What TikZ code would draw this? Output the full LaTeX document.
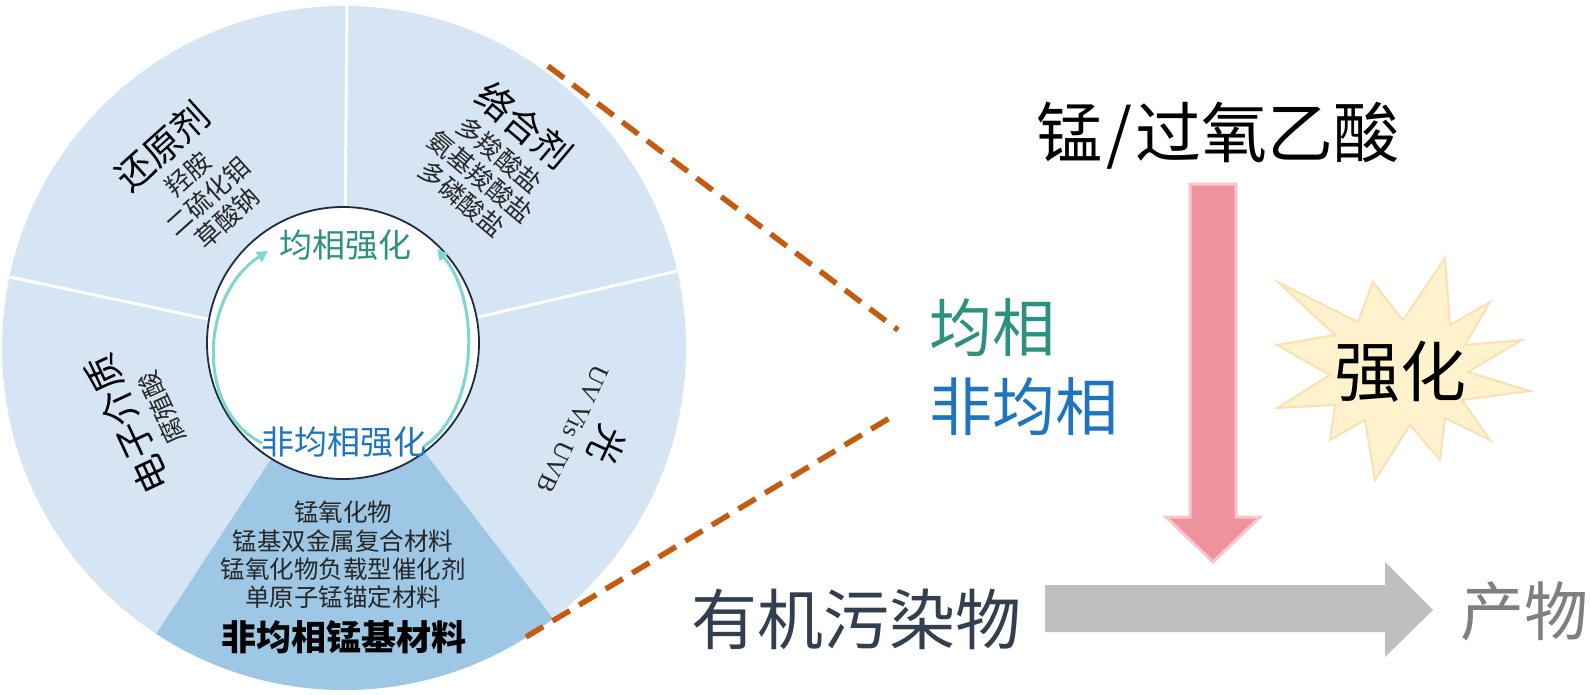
\documentclass[tikz,border=0pt]{standalone}
\usepackage{fontspec}
\setmainfont{Liberation Serif}
\newfontfamily\cjk{Noto Sans CJK SC}
\usetikzlibrary{arrows.meta}
\definecolor{lightsec}{HTML}{D5E5F4}
\definecolor{darksec}{HTML}{9DC7E4}
\definecolor{navy}{HTML}{1F2A44}
\definecolor{tealA}{HTML}{2E9180}
\definecolor{blueA}{HTML}{1F74BE}
\definecolor{cyanA}{HTML}{7DD7CB}
\definecolor{orangeA}{HTML}{C55A11}
\definecolor{pinkA}{HTML}{EE939E}
\definecolor{pinkB}{HTML}{F7C6CB}
\definecolor{greyA}{HTML}{BFBFBF}
\definecolor{slateA}{HTML}{323F4F}
\definecolor{prodgrey}{HTML}{7F7F7F}
\definecolor{starfill}{HTML}{FFF2CC}
\definecolor{starline}{HTML}{F9E0B5}
\definecolor{subtext}{HTML}{262626}
\tikzset{
  txt/.style={inner sep=0pt, outer sep=0pt},
  secblock/.style={txt, align=center, text=subtext, font=\cjk\fontsize{25.5}{29}\selectfont},
  cyanarrow/.style={draw=cyanA, line width=3pt, -{Triangle[length=11pt,width=11pt]}},
  dashline/.style={draw=orangeA, line width=5.5pt, dash pattern=on 20pt off 11pt},
}
\begin{document}
\begin{tikzpicture}[x=1pt,y=1pt]
\useasboundingbox (0,0) rectangle (1591,-694);
% ---- wheel ----
\fill[lightsec] (344,-348) circle[radius=342];
\fill[darksec] (344,-348) -- ++(236.7:342) arc[start angle=236.7,end angle=307.7,radius=342] -- cycle;
\foreach \a in {89.5,168,13} \draw[white,line width=3pt] (344,-348) -- ++(\a:342);
\draw[navy, fill=white, line width=1.8pt] (343,-343) circle[radius=136];
% inner arrows
\coordinate (ls) at (262,-443); \coordinate (le) at (268,-251);
\coordinate (rs) at (423,-447); \coordinate (re) at (437,-249);
\draw[cyanarrow] (ls) .. controls (195,-410) and (200,-295) .. (le);
\draw[cyanarrow] (rs) .. controls (480,-410) and (480,-300) .. (re);
\node[txt, text=tealA, font=\cjk\fontsize{33}{36}\selectfont] (homin) at (345,-245) {均相强化};
\node[txt, text=blueA, font=\cjk\fontsize{33}{36}\selectfont] (hetin) at (344,-442) {非均相强化};
% sector texts
\node[secblock, rotate=42] (reduct) at (193,-180) {{\fontsize{37}{37}\selectfont\color{black}还原剂}\\[5pt]羟胺\\二硫化钼\\草酸钠};
\node[secblock, rotate=-40] (chel) at (495,-160) {{\fontsize{37}{37}\selectfont\color{black}络合剂}\\[5pt]多羧酸盐\\氨基羧酸盐\\多磷酸盐};
\node[secblock, rotate=115] (elec) at (142,-417) {{\fontsize{37}{37}\selectfont\color{black}电子介质}\\[5pt]腐殖酸};
\node[secblock, rotate=-115] (light) at (594,-439) {{\fontsize{37}{37}\selectfont\color{black}光}\\[3pt]{\rmfamily UV Vis UVB}};
\node[secblock, font=\cjk\fontsize{24.5}{28.3}\selectfont] (matlist) at (343,-555) {锰氧化物\\锰基双金属复合材料\\锰氧化物负载型催化剂\\单原子锰锚定材料};
\node[txt, font=\cjk\bfseries\fontsize{35}{40}\selectfont] (mattitle) at (344,-637) {非均相锰基材料};
% ---- dashed zoom lines ----
\coordinate (o1a) at (548,-66); \coordinate (o1b) at (898,-330);
\coordinate (o2a) at (526,-637); \coordinate (o2b) at (893,-416);
\draw[dashline] (o1a) -- (o1b);
\draw[dashline] (o2a) -- (o2b);
% ---- right labels ----
\node[txt, anchor=west, text=tealA, font=\cjk\fontsize{63}{70}\selectfont] (homo) at (929,-328) {均相};
\node[txt, anchor=west, text=blueA, font=\cjk\fontsize{63}{70}\selectfont] (hetero) at (929,-407) {非均相};
\node[txt, font=\cjk\fontsize{66}{70}\selectfont] (mnpaa) at (1218,-136) {锰\kern4pt/\kern4pt过氧乙酸};
% pink arrow
\filldraw[fill=pinkA, draw=pinkB, line width=3pt, line join=miter]
  (1190,-184) -- (1236,-184) -- (1236,-517) -- (1260,-517) -- (1213,-562) -- (1166,-517) -- (1190,-517) -- cycle;
% grey arrow
\fill[greyA] (1045,-585) -- (1385,-585) -- (1385,-562) -- (1433,-610) -- (1385,-657) -- (1385,-632) -- (1045,-632) -- cycle;
\node[txt, text=slateA, font=\cjk\fontsize{66}{70}\selectfont] (org) at (856,-619) {有机污染物};
\node[txt, text=prodgrey, font=\cjk\fontsize{64}{70}\selectfont] (prod) at (1524,-611) {产物};
% starburst
\filldraw[fill=starfill, draw=starline, line width=2pt, line join=miter]
  (1278,-282) -- (1358,-322) -- (1373,-282) -- (1403,-320) -- (1445,-258) -- (1450,-325) --
  (1490,-302) -- (1465,-345) -- (1522,-340) -- (1468,-372) -- (1530,-391) -- (1462,-400) --
  (1490,-440) -- (1445,-418) -- (1440,-460) -- (1410,-425) -- (1375,-480) -- (1365,-420) --
  (1330,-440) -- (1335,-405) -- (1277,-408) -- (1330,-375) -- (1277,-345) -- (1335,-335) -- cycle;
\node[txt, font=\cjk\fontsize{66}{70}\selectfont] (enh) at (1400,-372) {强化};
\end{tikzpicture}
\end{document}
